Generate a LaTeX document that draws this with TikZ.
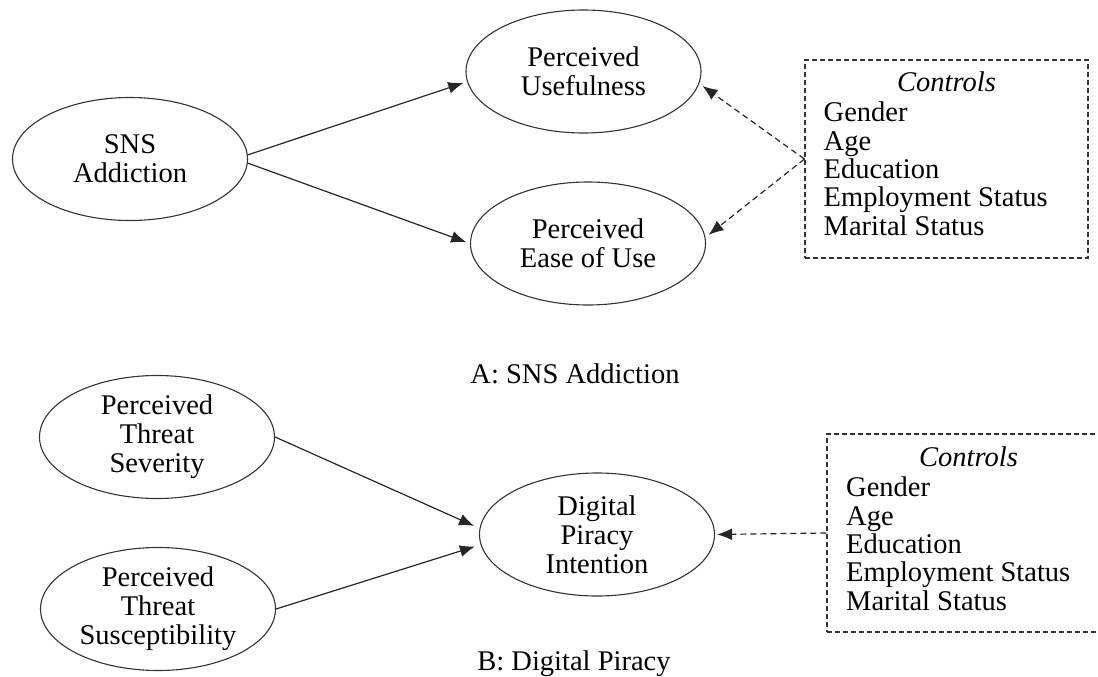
\documentclass[tikz,border=0pt]{standalone}
\usepackage{fontspec}
\setmainfont{Liberation Serif}
\usetikzlibrary{shapes.geometric,arrows.meta}
\begin{document}
\begin{tikzpicture}[x=1pt,y=-1pt,
  lat/.style={ellipse,draw=black!80,line width=1.1pt,minimum width=235pt,minimum height=123pt,inner sep=0pt,align=center,font=\fontsize{28.5}{29}\selectfont},
  ctrl/.style={draw=black!80,dash pattern=on 5pt off 3pt,line width=1.1pt,minimum width=283pt,minimum height=198pt,inner sep=0pt},
  txt/.style={font=\fontsize{28.5}{28.3}\selectfont,inner sep=0pt},
  arr/.style={line width=1.2pt,draw=black!85,-{Latex[length=15pt,width=12pt]},shorten >=4pt},
  darr/.style={arr,dash pattern=on 6pt off 4pt}]
\useasboundingbox (0,0) rectangle (1098,677);
\clip (0,0) rectangle (1098,677);
% Panel A
\node[lat] (sns) at (130,159) {SNS\\Addiction};
\node[lat] (pu) at (583.5,71.5) {Perceived\\Usefulness};
\node[lat] (pe) at (588,243.5) {Perceived\\Ease of Use};
\node[ctrl] (ca) at (946.5,159) {};
\node[txt,anchor=base] (cat) at (946.5,91.5) {\itshape Controls};
\node[txt,anchor=north west,align=left] (cal) at (823.5,102) {Gender\\Age\\Education\\Employment Status\\Marital Status};
\node[txt,anchor=base] (capa) at (575,383) {A: SNS Addiction};
\draw[arr] (sns.2) -- (pu.185);
\draw[arr] (sns.-2) -- (pe.west);
\draw[darr] (ca.west) -- (pu.-6);
\draw[darr] (ca.west) -- (pe.3);
% Panel B
\node[lat] (pts) at (157,437) {Perceived\\Threat\\Severity};
\node[lat] (pss) at (158,609) {Perceived\\Threat\\Susceptibility};
\node[lat] (dpi) at (597,534.5) {Digital\\Piracy\\Intention};
\node[ctrl] (cb) at (968.5,533) {};
\node[txt,anchor=base] (cbt) at (968.5,466) {\itshape Controls};
\node[txt,anchor=north west,align=left] (cbl) at (846,477) {Gender\\Age\\Education\\Employment Status\\Marital Status};
\node[txt,anchor=base] (capb) at (574,670) {B: Digital Piracy};
\draw[arr,shorten >=6pt] (pts.east) -- (dpi.177);
\draw[arr,shorten >=6pt] (pss.east) -- (dpi.185);
\draw[darr,shorten >=2pt] (cb.west) -- (dpi.east);
\end{tikzpicture}
\end{document}
